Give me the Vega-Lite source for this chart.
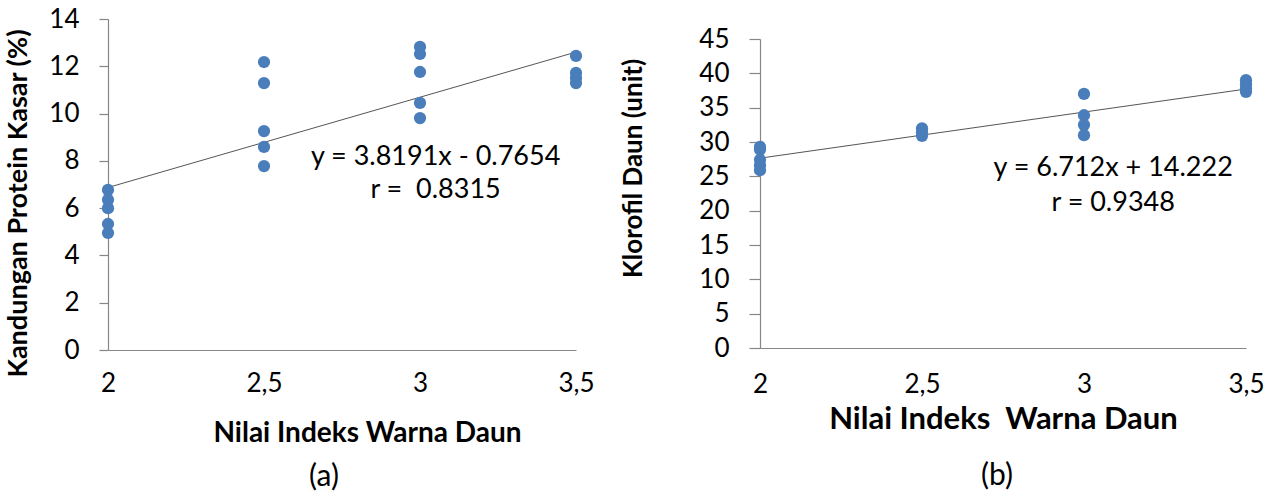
{
  "$schema": "https://vega.github.io/schema/vega-lite/v6.json",
  "background": "white",
  "padding": {"left": 4, "top": 6, "right": 5, "bottom": 5},
  "spacing": 25,
  "config": {
    "font": "Lato",
    "view": {"stroke": null},
    "axis": {"grid": false, "domainColor": "#868686", "tickColor": "#868686", "labelColor": "#000000", "titleColor": "#000000", "labelFont": "Lato", "titleFont": "Lato", "labelFontSize": 26, "titleFontSize": 27, "titleFontWeight": "bold", "domainWidth": 1.2, "tickWidth": 1.2}
  },
  "datasets": {
    "ptsA": [
      {"x": 2, "y": 6.77}, {"x": 2, "y": 6.35}, {"x": 2, "y": 6.0}, {"x": 2, "y": 5.33}, {"x": 2, "y": 4.95},
      {"x": 2.5, "y": 12.18}, {"x": 2.5, "y": 11.29}, {"x": 2.5, "y": 9.26}, {"x": 2.5, "y": 8.59}, {"x": 2.5, "y": 7.78},
      {"x": 3, "y": 12.82}, {"x": 3, "y": 12.52}, {"x": 3, "y": 11.76}, {"x": 3, "y": 10.45}, {"x": 3, "y": 9.81},
      {"x": 3.5, "y": 12.44}, {"x": 3.5, "y": 11.72}, {"x": 3.5, "y": 11.5}, {"x": 3.5, "y": 11.29}
    ],
    "lineA": [{"x": 2, "y": 6.873}, {"x": 3.5, "y": 12.601}],
    "textA": [{"x": 3.05, "y": 8.16, "label": "y = 3.8191x - 0.7654"}, {"x": 3.05, "y": 6.77, "label": "r = \u00a00.8315"}],
    "ptsB": [
      {"x": 2, "y": 29.3}, {"x": 2, "y": 28.9}, {"x": 2, "y": 27.4}, {"x": 2, "y": 26.6}, {"x": 2, "y": 25.9},
      {"x": 2.5, "y": 32.0}, {"x": 2.5, "y": 31.4}, {"x": 2.5, "y": 30.9},
      {"x": 3, "y": 37.0}, {"x": 3, "y": 33.9}, {"x": 3, "y": 32.5}, {"x": 3, "y": 31.0},
      {"x": 3.5, "y": 39.0}, {"x": 3.5, "y": 38.4}, {"x": 3.5, "y": 37.8}, {"x": 3.5, "y": 37.3}
    ],
    "lineB": [{"x": 2, "y": 27.646}, {"x": 3.5, "y": 37.714}],
    "textB": [{"x": 3.09, "y": 26.2, "label": "y = 6.712x + 14.222"}, {"x": 3.09, "y": 21.1, "label": "r = 0.9348"}]
  },
  "hconcat": [
    {
      "width": 468,
      "height": 331,
      "title": {"text": "(a)", "orient": "bottom", "fontSize": 30, "fontWeight": "normal", "font": "Lato", "offset": 15, "dx": -18, "color": "#000000"},
      "encoding": {
        "x": {"field": "x", "type": "quantitative", "scale": {"domain": [2, 3.5], "nice": false, "zero": false},
          "axis": {"values": [2, 2.5, 3, 3.5], "labelExpr": "replace(format(datum.value, '~g'), '.', ',')", "title": "Nilai Indeks Warna Daun", "titleFontSize": 28, "titleX": 259, "ticks": false, "labelPadding": 20, "titlePadding": 23, "labelFlush": false}},
        "y": {"field": "y", "type": "quantitative", "scale": {"domain": [0, 14], "nice": false},
          "axis": {"values": [0, 2, 4, 6, 8, 10, 12, 14], "title": "Kandungan Protein Kasar (%)", "titleY": 184, "tickSize": 9, "labelPadding": 20, "titlePadding": 16}}
      },
      "layer": [
        {"data": {"name": "lineA"}, "mark": {"type": "line", "color": "#555555", "strokeWidth": 1}},
        {"data": {"name": "ptsA"}, "mark": {"type": "circle", "size": 150, "color": "#4A7EBB", "opacity": 1}},
        {"data": {"name": "textA"}, "mark": {"type": "text", "fontSize": 27, "align": "center", "baseline": "middle", "color": "#000000", "font": "Lato"}, "encoding": {"text": {"field": "label"}}}
      ]
    },
    {
      "spacing": 6,
      "vconcat": [
        {
          "width": 486,
          "height": 1,
          "data": {"values": []},
          "mark": "point"
        },
        {
          "width": 486,
          "height": 309,
          "title": {"text": "(b)", "orient": "bottom", "fontSize": 30, "fontWeight": "normal", "font": "Lato", "offset": 27, "dx": -6, "color": "#000000"},
          "encoding": {
            "x": {"field": "x", "type": "quantitative", "scale": {"domain": [2, 3.5], "nice": false, "zero": false},
              "axis": {"values": [2, 2.5, 3, 3.5], "labelExpr": "replace(format(datum.value, '~g'), '.', ',')", "title": "Nilai Indeks \u00a0Warna Daun", "titleFontSize": 31, "ticks": false, "labelPadding": 23, "titlePadding": 7, "labelFlush": false}},
            "y": {"field": "y", "type": "quantitative", "scale": {"domain": [0, 45], "nice": false},
              "axis": {"values": [0, 5, 10, 15, 20, 25, 30, 35, 40, 45], "title": "Klorofil Daun (unit)", "titleFontSize": 26, "titleY": 129, "tickSize": 11, "labelPadding": 20, "titlePadding": 52}}
          },
          "layer": [
            {"data": {"name": "lineB"}, "mark": {"type": "line", "color": "#555555", "strokeWidth": 1}},
            {"data": {"name": "ptsB"}, "mark": {"type": "circle", "size": 150, "color": "#4A7EBB", "opacity": 1}},
            {"data": {"name": "textB"}, "mark": {"type": "text", "fontSize": 27, "align": "center", "baseline": "middle", "color": "#000000", "font": "Lato"}, "encoding": {"text": {"field": "label"}}}
          ]
        }
      ]
    }
  ]
}
